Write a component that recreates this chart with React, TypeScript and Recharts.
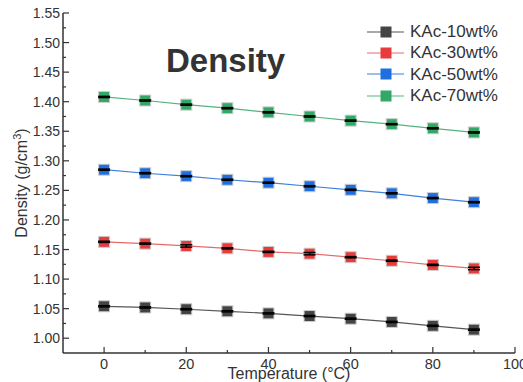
import React from 'react';
import { ComposedChart, Line, XAxis, YAxis, ErrorBar } from 'recharts';

// temperature (°C) and measured density (g/cm3) for each KAc concentration
const temps = [0, 10, 20, 30, 40, 50, 60, 70, 80, 90];
const kac10 = [1.054, 1.052, 1.049, 1.0455, 1.042, 1.0375, 1.033, 1.0275, 1.021, 1.0145];
const kac30 = [1.163, 1.160, 1.156, 1.152, 1.146, 1.143, 1.137, 1.131, 1.124, 1.118];
const kac50 = [1.285, 1.279, 1.274, 1.268, 1.263, 1.257, 1.251, 1.245, 1.237, 1.230];
const kac70 = [1.408, 1.402, 1.395, 1.389, 1.382, 1.375, 1.368, 1.362, 1.355, 1.348];

// standard deviations
const err10 = [0.001, 0.001, 0.001, 0.001, 0.001, 0.001, 0.001, 0.001, 0.001, 0.001];
const err30 = [0.001, 0.001, 0.002, 0.001, 0.001, 0.002, 0.001, 0.001, 0.001, 0.002];
const err50 = [0.001, 0.001, 0.001, 0.001, 0.001, 0.001, 0.001, 0.001, 0.001, 0.001];
const err70 = [0.001, 0.001, 0.001, 0.001, 0.001, 0.001, 0.001, 0.001, 0.001, 0.001];

const xTicks = [0, 10, 20, 30, 40, 50, 60, 70, 80, 90, 100];
const xLabels = [0, 20, 40, 60, 80, 100];
const yTicks = [1.0, 1.025, 1.05, 1.075, 1.1, 1.125, 1.15, 1.175, 1.2, 1.225, 1.25, 1.275,
  1.3, 1.325, 1.35, 1.375, 1.4, 1.425, 1.45, 1.475, 1.5, 1.525, 1.55];
const yLabels = ['1.00', '1.05', '1.10', '1.15', '1.20', '1.25', '1.30', '1.35', '1.40', '1.45', '1.50', '1.55'];

const series = [
  { name: 'KAc-10wt%', key: 'k10', err: 'e10', fill: '#444444', line: '#555555' },
  { name: 'KAc-30wt%', key: 'k30', err: 'e30', fill: '#e83b3b', line: '#e56a6a' },
  { name: 'KAc-50wt%', key: 'k50', err: 'e50', fill: '#1f6fe0', line: '#3f80dc' },
  { name: 'KAc-70wt%', key: 'k70', err: 'e70', fill: '#33a866', line: '#55b37f' },
];

const rows = temps.map((t, i) => ({
  t,
  k10: kac10[i], e10: err10[i],
  k30: kac30[i], e30: err30[i],
  k50: kac50[i], e50: err50[i],
  k70: kac70[i], e70: err70[i],
}));

const AXIS = '#333333';
const FONT = '"Liberation Sans", Arial, sans-serif';

const isMajorY = (v: number) => yLabels.includes(v.toFixed(2)) && Math.abs(v * 20 - Math.round(v * 20)) < 1e-6;

const BottomTick = ({ x, y, payload }: any) => {
  const major = xLabels.includes(payload.value);
  return (
    <g>
      <line x1={x} x2={x} y1={y} y2={y - (major ? 6 : 3)} stroke={AXIS} strokeWidth={1.2} />
      {major && (
        <text x={x} y={y + 16} textAnchor="middle" fontSize={14.5} fill="#333" fontFamily={FONT}>
          {payload.value}
        </text>
      )}
    </g>
  );
};

const TopTick = ({ x, y, payload }: any) => {
  const major = xLabels.includes(payload.value);
  return <line x1={x} x2={x} y1={y} y2={y + (major ? 6 : 3)} stroke={AXIS} strokeWidth={1.2} />;
};

const LeftTick = ({ x, y, payload }: any) => {
  const major = isMajorY(payload.value);
  return (
    <g>
      <line x1={x} x2={x + (major ? 6 : 3)} y1={y} y2={y} stroke={AXIS} strokeWidth={1.2} />
      {major && (
        <text x={x - 3} y={y + 5} textAnchor="end" fontSize={14} fill="#333" fontFamily={FONT}>
          {payload.value.toFixed(2)}
        </text>
      )}
    </g>
  );
};

const RightTick = ({ x, y, payload }: any) => {
  const major = isMajorY(payload.value);
  return <line x1={x} x2={x - (major ? 6 : 3)} y1={y} y2={y} stroke={AXIS} strokeWidth={1.2} />;
};

const squareDot = (fill: string) => (props: any) => {
  const { cx, cy, index } = props;
  if (cx == null || cy == null) return <g key={index} />;
  return (
    <rect key={index} x={cx - 5.5} y={cy - 5.5} width={11} height={11} fill={fill} stroke="#cfcfcf" strokeWidth={1} />
  );
};

const YTitle = () => (
  <text x={27} y={183} transform="rotate(-90 27 183)" textAnchor="middle" fontSize={16} fill="#333" fontFamily={FONT}>
    Density (g/cm<tspan dy={-6} fontSize={11}>3</tspan><tspan dy={6}>)</tspan>
  </text>
);

const XTitle = () => (
  <text x={289} y={379} textAnchor="middle" fontSize={16} fill="#333" fontFamily={FONT}>
    Temperature (°C)
  </text>
);

const LegendBox = () => (
  <div style={{ position: 'absolute', left: 364, top: 21, fontFamily: FONT, fontSize: 17, color: '#333' }}>
    {series.map((s) => (
      <div key={s.key} style={{ display: 'flex', alignItems: 'center', height: 21.3 }}>
        <svg width={44} height={14}>
          <line x1={3} x2={40} y1={7} y2={7} stroke={s.line} strokeWidth={1.2} />
          <rect x={16.5} y={1.5} width={11} height={11} fill={s.fill} />
        </svg>
        <span style={{ marginLeft: 2, lineHeight: '21px' }}>{s.name}</span>
      </div>
    ))}
  </div>
);

export default function App() {
  return (
    <div style={{ position: 'absolute', left: 0, top: 0, width: 523, height: 382, background: '#fff' }}>
      <ComposedChart width={523} height={382} data={rows} margin={{ top: 13, right: 8, bottom: 0, left: 0 }}>
        <XAxis
          dataKey="t"
          type="number"
          domain={[-10, 100]}
          ticks={xTicks}
          interval={0}
          height={29}
          tickSize={0}
          tickMargin={0}
          tickLine={false}
          tick={<BottomTick />}
          axisLine={{ stroke: AXIS, strokeWidth: 1.5 }}
          label={<XTitle />}
        />
        <XAxis
          xAxisId="top"
          orientation="top"
          dataKey="t"
          type="number"
          domain={[-10, 100]}
          ticks={xTicks}
          interval={0}
          height={0}
          tickSize={0}
          tickMargin={0}
          tickLine={false}
          tick={<TopTick />}
          axisLine={{ stroke: AXIS, strokeWidth: 1.5 }}
        />
        <YAxis
          type="number"
          domain={[0.975, 1.55]}
          ticks={yTicks}
          interval={0}
          width={63}
          tickSize={0}
          tickMargin={0}
          tickLine={false}
          tick={<LeftTick />}
          axisLine={{ stroke: AXIS, strokeWidth: 1.5 }}
          label={<YTitle />}
        />
        <YAxis
          yAxisId="right"
          orientation="right"
          type="number"
          domain={[0.975, 1.55]}
          ticks={yTicks}
          interval={0}
          width={0}
          tickSize={0}
          tickMargin={0}
          tickLine={false}
          tick={<RightTick />}
          axisLine={{ stroke: AXIS, strokeWidth: 1.5 }}
        />
        {series.map((s) => (
          <Line
            key={s.key}
            dataKey={s.key}
            name={s.name}
            stroke={s.line}
            strokeWidth={1.2}
            dot={squareDot(s.fill)}
            activeDot={false}
            isAnimationActive={false}
          />
        ))}
        {/* error bars drawn on top of the square markers */}
        {series.map((s) => (
          <Line
            key={s.key + '-err'}
            dataKey={s.key}
            stroke="none"
            dot={false}
            activeDot={false}
            legendType="none"
            isAnimationActive={false}
            {...({ zIndex: 1500 } as any)}
          >
            <ErrorBar
              dataKey={s.err}
              direction="y"
              width={6}
              stroke="#000"
              strokeWidth={1.5}
              {...({ zIndex: 1600 } as any)}
            />
          </Line>
        ))}
      </ComposedChart>
      <div
        style={{
          position: 'absolute',
          left: 166,
          top: 42,
          fontFamily: FONT,
          fontWeight: 'bold',
          fontSize: 33,
          color: '#333',
        }}
      >
        Density
      </div>
      <LegendBox />
    </div>
  );
}
